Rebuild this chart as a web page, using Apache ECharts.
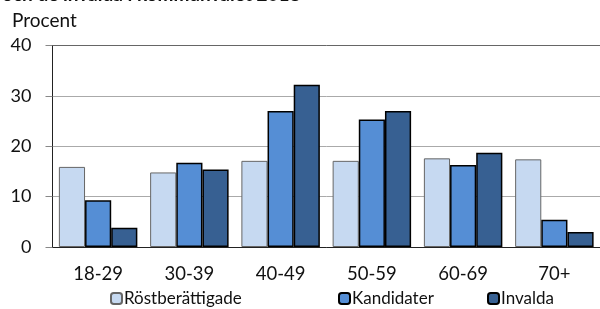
<!DOCTYPE html>
<html lang="sv">
    <head>
        <meta charset="utf-8" />
        <title>Röstberättigade, kandidater och invalda</title>
        <style type="text/css">
            html, body { margin: 0; padding: 0; background: #fff; }
            #chart { width: 600px; height: 309px; }
        </style>
    </head>
    <body>
        <div id="chart"></div>
        <script src="https://cdn.jsdelivr.net/npm/echarts@6/dist/echarts.min.js"></script>
        <script>
            // age groups and shares (procent)
            const ageGroups = ['18-29', '30-39', '40-49', '50-59', '60-69', '70+'];
            const rostberattigade = [15.9, 14.8, 17.1, 17.1, 17.6, 17.4];
            const kandidater = [9.3, 16.7, 27.0, 25.3, 16.3, 5.4];
            const invalda = [3.8, 15.4, 32.2, 27.0, 18.7, 3.0];

            const font = 'Lato, "Open Sans", sans-serif';

            let chart = echarts.init(document.querySelector('#chart'));

            const legendBase = {
                bottom: -3,
                itemWidth: 11,
                itemHeight: 11,
                textStyle: { fontFamily: font, fontSize: 17, color: '#111', padding: [0, 0, 0, -3] }
            };

            const option = {
                animation: false,
                title: [{
                    text: 'och de invalda i kommunvalet 2018',
                    left: 2,
                    top: -15,
                    padding: 0,
                    textStyle: { fontFamily: font, fontSize: 19, fontWeight: 'bold', color: '#111' }
                }, {
                    text: 'Procent',
                    left: 12,
                    top: 11,
                    padding: 0,
                    textStyle: { fontFamily: font, fontSize: 19, fontWeight: 'normal', color: '#111' }
                }],
                legend: [
                    Object.assign({ data: ['Röstberättigade'], left: 105 }, legendBase),
                    Object.assign({ data: ['Kandidater'], left: 333 }, legendBase),
                    Object.assign({ data: ['Invalda'], left: 482 }, legendBase)
                ],
                grid: { left: 52.5, right: 0, top: 45.5, bottom: 62 },
                xAxis: {
                    type: 'category',
                    data: ageGroups,
                    axisLine: { lineStyle: { color: '#222', width: 1 } },
                    axisTick: { show: false },
                    axisLabel: { fontFamily: font, fontSize: 18.5, color: '#111', margin: 18 }
                },
                yAxis: {
                    type: 'value',
                    min: 0,
                    max: 40,
                    interval: 10,
                    axisLine: { show: true, lineStyle: { color: '#222', width: 1 } },
                    axisTick: { show: true, length: 7, lineStyle: { color: '#888' } },
                    axisLabel: { fontFamily: font, fontSize: 18, color: '#111', margin: 21 },
                    splitLine: { lineStyle: { color: ['#aaa', '#aaa', '#aaa', '#aaa', '#666'], width: 1 } }
                },
                series: [{
                    name: 'Röstberättigade',
                    type: 'bar',
                    data: rostberattigade,
                    barGap: '0%',
                    barCategoryGap: '14%',
                    itemStyle: { color: '#C6D9F1', borderColor: '#666', borderWidth: 1 }
                }, {
                    name: 'Kandidater',
                    type: 'bar',
                    data: kandidater,
                    itemStyle: { color: '#558ED5', borderColor: '#000', borderWidth: 1.5 }
                }, {
                    name: 'Invalda',
                    type: 'bar',
                    data: invalda,
                    itemStyle: { color: '#376092', borderColor: '#000', borderWidth: 1.5 }
                }]
            };

            chart.setOption(option);
        </script>
    </body>
</html>
